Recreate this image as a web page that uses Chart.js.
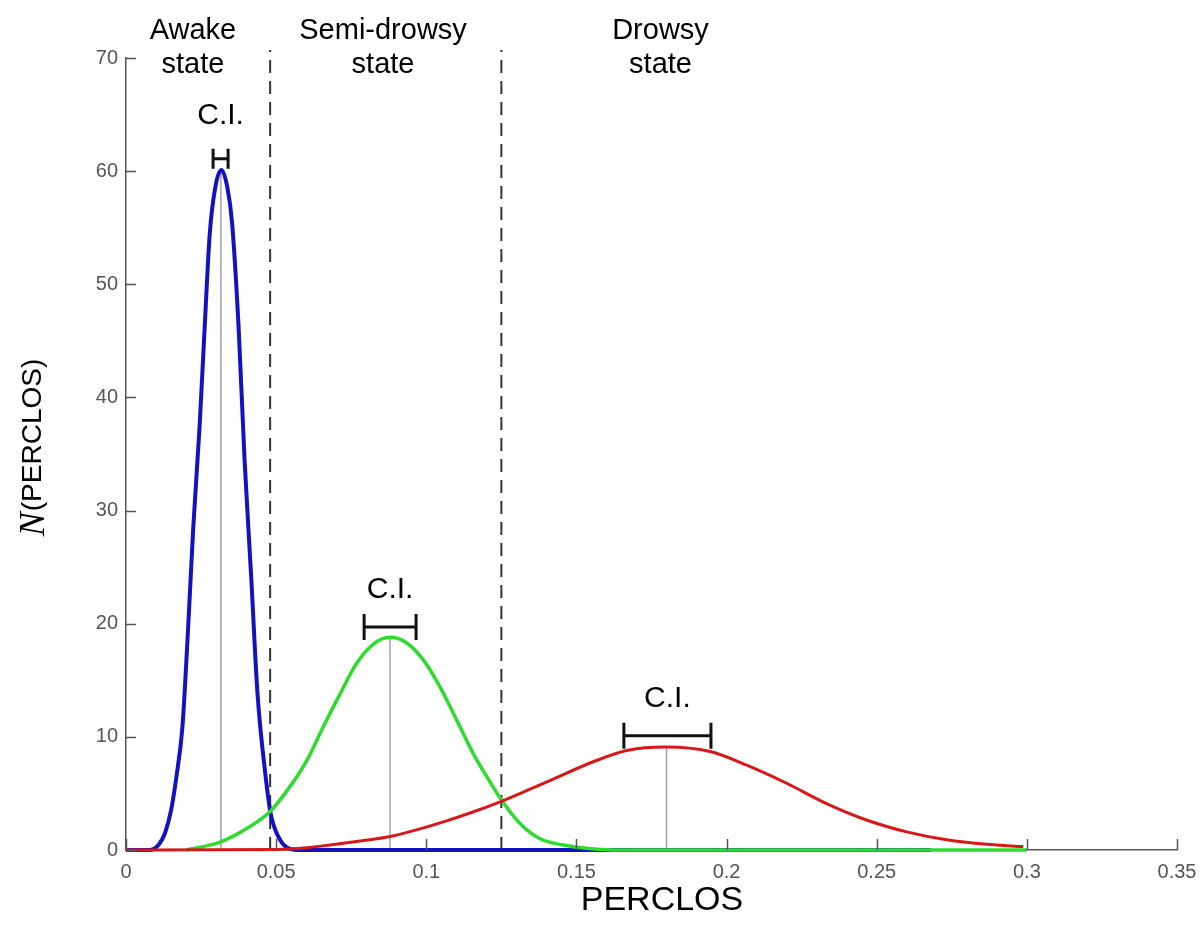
<!DOCTYPE html>
<html>
<head>
<meta charset="utf-8">
<script src="https://cdn.jsdelivr.net/npm/chart.js@4.4.1/dist/chart.umd.min.js"></script>
<style>
  html, body { margin: 0; padding: 0; background: #fff; }
  #wrap { width: 1200px; height: 937px; }
</style>
</head>
<body>
<div id="wrap"><canvas id="perclosChart" width="1200" height="937"></canvas></div>
<script>
// values
const xTickLabels = ['0', '0.05', '0.1', '0.15', '0.2', '0.25', '0.3', '0.35'];
const yTickLabels = ['0', '10', '20', '30', '40', '50', '60', '70'];

const awakeX = [0, 0.008, 0.011, 0.013, 0.015, 0.0168, 0.0188, 0.0207, 0.0224, 0.0245, 0.0262, 0.0279, 0.0299, 0.0318, 0.0338, 0.0353, 0.0375, 0.0395, 0.0417, 0.0438, 0.0465, 0.0482, 0.0513, 0.0546, 0.058, 0.268];
const awakeY = [0, 0, 0.5, 1.5, 3.5, 6.5, 10.9, 19.7, 28.5, 37.4, 46.2, 54.5, 58.8, 60.1, 58.5, 55.5, 46.2, 34.4, 24.1, 13.8, 6.5, 3.2, 0.9, 0.1, 0, 0];

const semiX = [0.02, 0.0313, 0.0402, 0.048, 0.0546, 0.0602, 0.0657, 0.0713, 0.0768, 0.0824, 0.0879, 0.0935, 0.099, 0.1046, 0.1101, 0.1157, 0.1201, 0.1251, 0.1312, 0.1379, 0.1456, 0.1534, 0.162, 0.3];
const semiY = [0, 0.7, 1.9, 3.4, 5.6, 7.9, 10.9, 13.8, 16.5, 18.2, 18.8, 18.3, 16.8, 14.4, 11.5, 8.5, 6.5, 4.4, 2.35, 1.0, 0.44, 0.15, 0, 0];

const drowsyX = [0, 0.05, 0.06, 0.068, 0.078, 0.088, 0.097, 0.107, 0.116, 0.125, 0.133, 0.14, 0.1556, 0.1667, 0.18, 0.1945, 0.2067, 0.22, 0.2333, 0.2466, 0.26, 0.2733, 0.2866, 0.2988];
const drowsyY = [0, 0.05, 0.2, 0.45, 0.8, 1.2, 1.8, 2.6, 3.4, 4.3, 5.2, 6.0, 7.8, 8.8, 9.1, 8.7, 7.5, 5.9, 4.1, 2.65, 1.6, 0.9, 0.5, 0.3];

const stateBounds = [0.048, 0.125];
const peakX = [0.0316, 0.0879, 0.18];
const peakY = [60.1, 18.8, 9.1];
const ciLow = [0.029, 0.0793, 0.1658];
const ciHigh = [0.034, 0.0966, 0.1948];
const ciLevel = [61.1, 19.7, 10.1];
const stateNames = [['Awake', 'state'], ['Semi-drowsy', 'state'], ['Drowsy', 'state']];
const stateNameX = [0.0223, 0.0856, 0.178];

const pts = (xs, ys) => xs.map((x, i) => ({ x: x, y: ys[i] }));

const SANS = '"Liberation Sans", Arial, sans-serif';

const overlay = {
  id: 'overlay',
  beforeDatasetsDraw(chart) {
    const { ctx, scales: { x, y } } = chart;
    ctx.save();
    // thin gray lines under each peak
    ctx.strokeStyle = '#a0a0a0';
    ctx.lineWidth = 1.5;
    peakX.forEach((px, i) => {
      const xp = x.getPixelForValue(px);
      ctx.beginPath();
      ctx.moveTo(xp, y.getPixelForValue(0));
      ctx.lineTo(xp, y.getPixelForValue(peakY[i]));
      ctx.stroke();
    });
    // state boundaries
    ctx.strokeStyle = '#333';
    ctx.lineWidth = 2;
    ctx.setLineDash([13, 8]);
    stateBounds.forEach(b => {
      const xp = x.getPixelForValue(b);
      ctx.beginPath();
      ctx.moveTo(xp, y.getPixelForValue(0));
      ctx.lineTo(xp, chart.chartArea.top - 8);
      ctx.stroke();
    });
    ctx.restore();
  },
  afterDraw(chart) {
    const { ctx, scales: { x, y } } = chart;
    const area = chart.chartArea;
    ctx.save();
    // inward ticks
    ctx.strokeStyle = '#555';
    ctx.lineWidth = 1.5;
    y.ticks.forEach(t => {
      const yp = Math.round(y.getPixelForValue(t.value)) + 0.5;
      ctx.beginPath();
      ctx.moveTo(area.left, yp);
      ctx.lineTo(area.left + 10, yp);
      ctx.stroke();
    });
    x.ticks.forEach(t => {
      const xp = Math.round(x.getPixelForValue(t.value)) + 0.5;
      ctx.beginPath();
      ctx.moveTo(xp, area.bottom);
      ctx.lineTo(xp, area.bottom - 11);
      ctx.stroke();
    });

    // confidence interval bars
    ctx.strokeStyle = '#111';
    ctx.lineWidth = 3;
    ctx.fillStyle = '#000';
    ctx.font = '30px ' + SANS;
    ctx.textAlign = 'center';
    ctx.textBaseline = 'middle';
    ciLow.forEach((lo, i) => {
      const x1 = x.getPixelForValue(lo);
      const x2 = x.getPixelForValue(ciHigh[i]);
      const yp = y.getPixelForValue(ciLevel[i]);
      const h = i === 0 ? 10 : 13;
      ctx.beginPath();
      ctx.moveTo(x1, yp); ctx.lineTo(x2, yp);
      ctx.moveTo(x1, yp - h); ctx.lineTo(x1, yp + h);
      ctx.moveTo(x2, yp - h); ctx.lineTo(x2, yp + h);
      ctx.stroke();
      ctx.fillText('C.I.', (x1 + x2) / 2, yp - (i === 0 ? 43 : 37));
    });

    // state names above the plot
    ctx.font = '29px ' + SANS;
    stateNames.forEach((lines, i) => {
      const xp = x.getPixelForValue(stateNameX[i]);
      ctx.fillText(lines[0], xp, 31);
      ctx.fillText(lines[1], xp, 65);
    });

    // x title
    ctx.font = '34px ' + SANS;
    ctx.fillText('PERCLOS', 662, 901);

    // y title, rotated, with italic N
    ctx.translate(33, 448);
    ctx.rotate(-Math.PI / 2);
    ctx.textAlign = 'left';
    const nFont = 'italic 36px "Liberation Serif", "Times New Roman", serif';
    const rest = '28px ' + SANS;
    ctx.font = nFont;
    const wN = ctx.measureText('N').width;
    ctx.font = rest;
    const wR = ctx.measureText('(PERCLOS)').width;
    const start = -(wN + wR) / 2;
    ctx.font = nFont;
    ctx.fillText('N', start, 2);
    ctx.font = rest;
    ctx.fillText('(PERCLOS)', start + wN + 1, 0);
    ctx.restore();
  }
};

const ctx = document.getElementById('perclosChart').getContext('2d');
new Chart(ctx, {
  type: 'line',
  data: {
    datasets: [
      { label: 'Awake', data: pts(awakeX, awakeY), borderColor: '#1212c0', borderWidth: 4, order: 3, clip: false },
      { label: 'Semi-drowsy', data: pts(semiX, semiY), borderColor: '#2ddc2d', borderWidth: 3.5, order: 2, clip: false },
      { label: 'Drowsy', data: pts(drowsyX, drowsyY), borderColor: '#d81818', borderWidth: 3, order: 1, clip: false }
    ]
  },
  options: {
    responsive: false,
    animation: false,
    elements: {
      point: { radius: 0 },
      line: { cubicInterpolationMode: 'monotone', fill: false }
    },
    layout: { padding: { left: 0, top: 58, right: 23, bottom: 0 } },
    plugins: { legend: { display: false }, tooltip: { enabled: false } },
    scales: {
      x: {
        type: 'linear',
        min: 0,
        max: 0.35,
        grid: { display: false, drawTicks: false },
        border: { display: true, color: '#555', width: 1.5 },
        ticks: {
          stepSize: 0.05,
          padding: 10,
          color: '#555',
          font: { family: SANS, size: 20 },
          maxRotation: 0,
          callback: (v, i) => xTickLabels[i]
        },
        afterFit: s => { s.height = 87; s.paddingRight = 0; s.paddingLeft = 0; }
      },
      y: {
        min: 0,
        max: 70,
        grid: { display: false, drawTicks: false },
        border: { display: true, color: '#555', width: 1.5 },
        ticks: {
          stepSize: 10,
          padding: 8,
          color: '#555',
          font: { family: SANS, size: 20 },
          callback: (v, i) => yTickLabels[i]
        },
        afterFit: s => { s.width = 126; s.paddingTop = 0; s.paddingBottom = 0; }
      }
    }
  },
  plugins: [overlay]
});
</script>
</body>
</html>
